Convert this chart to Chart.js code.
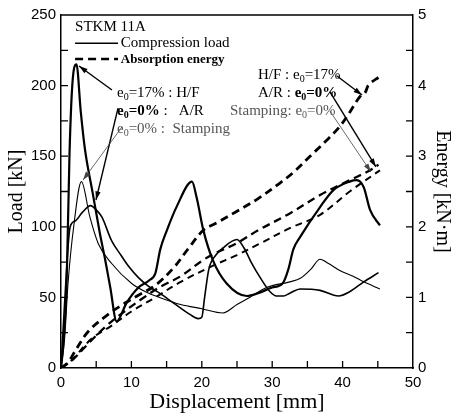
<!DOCTYPE html>
<html>
<head>
<meta charset="utf-8">
<script src="https://cdn.jsdelivr.net/npm/chart.js@4.4.1/dist/chart.umd.min.js"></script>
<style>
  html, body { margin: 0; padding: 0; background: #fff; }
  #wrap { width: 454px; height: 415px; }
</style>
</head>
<body>
<div id="wrap"><canvas id="c" width="454" height="415"></canvas></div>
<script>
// displacement [mm] / load [kN]
var hfX = [0, 0.3, 0.8, 1.2, 1.6, 2.2, 2.8, 3.4, 4.5, 5.5, 6.3, 7, 7.9, 9.3, 11, 12.5, 13.4, 14.1, 15, 16.5, 18.6, 19.3, 20.2, 21.6, 23.5, 26.4, 28, 30, 31.5, 32.3, 33, 34, 36.8, 38.7, 41, 42, 43, 43.9, 45.3];
var hfLoad = [0, 15, 60, 150, 200, 215, 182, 155, 124, 96, 76, 57, 33, 46, 57, 62, 67, 84, 97, 115, 132, 120, 98, 76, 60, 51, 53, 57, 60, 70, 84, 93, 114, 126, 132, 133, 128, 112, 101];

var arX = [0, 0.5, 1.3, 2, 3, 4.2, 5, 5.8, 7.2, 8.5, 9.6, 11, 12.4, 14, 16, 18.3, 19.5, 20, 20.4, 21, 22, 23, 25, 26, 27, 28.3, 29.7, 30.6, 31.6, 32.5, 34, 36.8, 39.4, 41, 43, 45.1];
var arLoad = [0, 45, 100, 104, 110, 115, 112, 107, 90, 80, 72, 64, 58, 53, 46, 38, 35, 36, 50, 70, 80, 85, 91, 85, 75, 64, 54, 51, 51, 53, 56, 55, 51, 54, 61, 67.5];

var stX = [0, 0.5, 1, 1.8, 2.9, 4.1, 5.3, 7.2, 10, 12, 14, 17, 20, 23, 25, 26.8, 29.2, 32.5, 34, 35.5, 36.8, 38, 39.6, 41.5, 43, 45.3];
var stLoad = [0, 20, 60, 100, 132, 107, 88, 74, 60, 54, 50, 45, 42, 39, 45, 50, 57, 61, 63.5, 70, 77, 74, 69, 65, 61, 56];

// displacement [mm] / absorbed energy [kN·m]
var hfEX = [0, 1, 2, 3.9, 6.7, 9.1, 11, 13.4, 16, 18, 20.2, 22, 25, 28, 31.1, 33, 35.8, 38, 39.6, 41, 42, 42.7, 43.2, 43.7, 45.3];
var hfE = [0, 0.08, 0.24, 0.52, 0.76, 0.92, 1.03, 1.17, 1.42, 1.68, 1.95, 2.05, 2.22, 2.4, 2.62, 2.77, 3.04, 3.25, 3.42, 3.62, 3.78, 3.87, 3.9, 4.01, 4.13];

var arEX = [0, 1.5, 4.2, 6.5, 9, 11.5, 14.1, 17, 20.2, 22, 25, 28, 32.5, 36.8, 40.6, 43.9, 45.1];
var arE = [0, 0.1, 0.38, 0.6, 0.8, 0.98, 1.15, 1.3, 1.53, 1.63, 1.77, 1.95, 2.19, 2.45, 2.64, 2.8, 2.88];

var stEX = [0, 1.5, 4.4, 7.2, 10, 13.4, 17, 21.6, 25, 28, 32.5, 36.8, 41, 45.3];
var stE = [0, 0.11, 0.42, 0.6, 0.8, 1.0, 1.22, 1.45, 1.6, 1.75, 1.98, 2.17, 2.5, 2.8];

var xTicks = [0, 10, 20, 30, 40, 50];
var loadTicks = [0, 50, 100, 150, 200, 250];
var energyTicks = [0, 1, 2, 3, 4, 5];

function pts(xs, ys) {
    return xs.map(function(x, i) { return { x: x, y: ys[i] }; });
}

var serif = '"Liberation Serif", "Times New Roman", serif';
var sans = '"Liberation Sans", Arial, sans-serif';

function loadSet(data, w) {
    return {
        data: data, yAxisID: 'y', borderColor: '#000', borderWidth: w,
        pointRadius: 0, fill: false, cubicInterpolationMode: 'monotone'
    };
}
function energySet(data, w, dash) {
    return {
        data: data, yAxisID: 'y2', borderColor: '#000', borderWidth: w,
        borderDash: dash, pointRadius: 0, fill: false, tension: 0.35
    };
}

// inward ticks, top border, legend and the labels with arrows
var decor = {
    id: 'decor',
    afterDraw: function(chart) {
        var c = chart.ctx, a = chart.chartArea;
        var sx = chart.scales.x, sy = chart.scales.y, sy2 = chart.scales.y2;
        var X = function(v) { return sx.getPixelForValue(v); };
        var Y = function(v) { return sy.getPixelForValue(v); };
        c.save();
        c.strokeStyle = '#000';
        c.lineWidth = 1.5;
        c.beginPath();
        c.moveTo(a.left, a.top); c.lineTo(a.right, a.top);
        c.stroke();

        c.lineWidth = 1.3;
        c.beginPath();
        for (var v = 5; v < 50; v += 5) {
            c.moveTo(X(v), a.bottom); c.lineTo(X(v), a.bottom - 7);
        }
        for (var l = 25; l < 250; l += 25) {
            c.moveTo(a.left, Y(l)); c.lineTo(a.left + 7, Y(l));
        }
        for (var e = 0.5; e < 5; e += 0.5) {
            var p = sy2.getPixelForValue(e);
            c.moveTo(a.right, p); c.lineTo(a.right - 7, p);
        }
        c.stroke();

        // legend
        c.fillStyle = '#000';
        c.textBaseline = 'middle';
        c.font = '15px ' + serif;
        c.fillText('STKM 11A', X(2), Y(241.5));
        c.lineWidth = 1.5;
        c.beginPath();
        c.moveTo(X(2), Y(230)); c.lineTo(X(8.1), Y(230));
        c.stroke();
        c.fillText('Compression load', X(8.5), Y(230));
        c.lineWidth = 2.6;
        c.setLineDash([8, 5]);
        c.beginPath();
        c.moveTo(X(2), Y(218.8)); c.lineTo(X(8.1), Y(218.8));
        c.stroke();
        c.setLineDash([]);
        c.font = 'bold 13px ' + serif;
        c.fillText('Absorption energy', X(8.5), Y(218.5));

        function label(parts, x, y, color) {
            var px = X(x), py = Y(y);
            c.fillStyle = color;
            parts.forEach(function(pt) {
                c.font = (pt.b ? 'bold ' : '') + '15px ' + serif;
                if (pt.sub) {
                    c.fillText('e', px, py);
                    px += c.measureText('e').width;
                    c.font = (pt.b ? 'bold ' : '') + '10px ' + serif;
                    c.fillText('0', px, py + 4);
                    px += c.measureText('0').width;
                    c.font = (pt.b ? 'bold ' : '') + '15px ' + serif;
                    c.fillText(pt.t, px, py);
                    px += c.measureText(pt.t).width;
                } else {
                    c.fillText(pt.t, px, py);
                    px += c.measureText(pt.t).width;
                }
            });
        }
        label([{ sub: true, t: '=17% : H/F' }], 7.95, 194.8, '#000');
        label([{ sub: true, b: true, t: '=0%' }, { t: ' :   A/R' }], 7.95, 182, '#000');
        label([{ sub: true, t: '=0% :  Stamping' }], 7.95, 169.3, '#555');
        label([{ t: 'H/F : ' }, { sub: true, t: '=17%' }], 27.98, 207.5, '#000');
        label([{ t: 'A/R : ' }, { sub: true, b: true, t: '=0%' }], 27.98, 194.8, '#000');
        label([{ t: 'Stamping: ' }, { sub: true, t: '=0%' }], 24.0, 182, '#555');

        function arrow(x0, y0, x1, y1, w, color) {
            var ax = X(x0), ay = Y(y0), bx = X(x1), by = Y(y1);
            var ang = Math.atan2(by - ay, bx - ax);
            c.strokeStyle = color; c.fillStyle = color; c.lineWidth = w;
            c.beginPath(); c.moveTo(ax, ay); c.lineTo(bx, by); c.stroke();
            c.beginPath();
            c.moveTo(bx, by);
            c.lineTo(bx - 9 * Math.cos(ang - 0.3), by - 9 * Math.sin(ang - 0.3));
            c.lineTo(bx - 9 * Math.cos(ang + 0.3), by - 9 * Math.sin(ang + 0.3));
            c.closePath(); c.fill();
        }
        arrow(7.24, 196.9, 2.56, 213.9, 1.4, '#000');
        arrow(8.1, 184.1, 4.97, 119, 1.4, '#000');
        arrow(8.66, 170.7, 3.13, 133.1, 0.8, '#444');
        arrow(39.2, 206.8, 42.76, 193.3, 1.4, '#000');
        arrow(38.2, 195.5, 44.74, 142.4, 1.4, '#000');
        arrow(38.2, 182, 44.03, 138.8, 0.8, '#444');
        c.restore();
    }
};

new Chart(document.getElementById('c'), {
    type: 'line',
    data: {
        datasets: [
            loadSet(pts(hfX, hfLoad), 2.2),
            loadSet(pts(arX, arLoad), 1.6),
            loadSet(pts(stX, stLoad), 1.1),
            energySet(pts(hfEX, hfE), 2.8, [8, 5]),
            energySet(pts(arEX, arE), 2.3, [8, 5]),
            energySet(pts(stEX, stE), 2.0, [7, 5])
        ]
    },
    options: {
        responsive: false,
        animation: false,
        layout: { padding: { top: 15, left: 0, right: 0, bottom: 0 } },
        plugins: { legend: { display: false }, tooltip: { enabled: false } },
        scales: {
            x: {
                type: 'linear', min: 0, max: 50,
                afterBuildTicks: function(s) { s.ticks = xTicks.map(function(v) { return { value: v }; }); },
                afterFit: function(s) { s.height = 47; },
                grid: { display: false, drawTicks: false },
                border: { display: true, color: '#000', width: 1.5 },
                ticks: { color: '#000', padding: 6, maxRotation: 0, font: { family: sans, size: 15 } },
                title: { display: true, text: 'Displacement [mm]', color: '#000', padding: { top: 0, bottom: 0 }, font: { family: serif, size: 22 } }
            },
            y: {
                type: 'linear', position: 'left', min: 0, max: 250,
                afterBuildTicks: function(s) { s.ticks = loadTicks.map(function(v) { return { value: v }; }); },
                afterFit: function(s) { s.width = 61; },
                grid: { display: false, drawTicks: false },
                border: { display: true, color: '#000', width: 1.5 },
                ticks: { color: '#000', padding: 5, font: { family: sans, size: 15 } },
                title: { display: true, text: 'Load [kN]', color: '#000', padding: { top: 5, bottom: 0 }, font: { family: serif, size: 20 } }
            },
            y2: {
                type: 'linear', position: 'right', min: 0, max: 5,
                afterBuildTicks: function(s) { s.ticks = energyTicks.map(function(v) { return { value: v }; }); },
                afterFit: function(s) { s.width = 41; },
                grid: { display: false, drawTicks: false },
                border: { display: true, color: '#000', width: 1.5 },
                ticks: { color: '#000', padding: 5, font: { family: sans, size: 15 } },
                title: { display: true, text: 'Energy [kN·m]', color: '#000', padding: { top: 0, bottom: 0 }, font: { family: serif, size: 20 } }
            }
        }
    },
    plugins: [decor]
});
</script>
</body>
</html>
